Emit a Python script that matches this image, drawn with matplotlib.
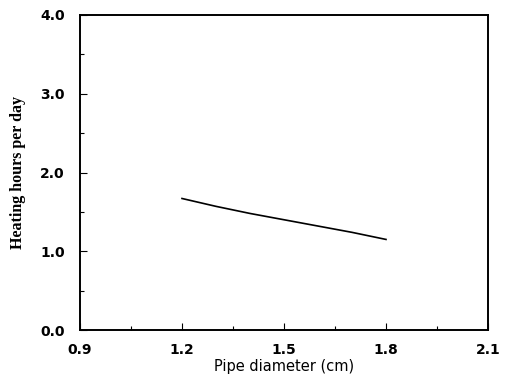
import numpy as np
import matplotlib.pyplot as plt
from matplotlib.ticker import MultipleLocator

# values
diameter = [1.2, 1.3, 1.4, 1.5, 1.6, 1.7, 1.8]
hours = [1.67, 1.57, 1.48, 1.40, 1.32, 1.24, 1.15]

fig = plt.figure(figsize=(5.09, 3.83), dpi=100)
ax = fig.add_axes([80 / 509, 1 - 330 / 383, 408 / 509, 315 / 383])

ax.plot(diameter, hours, color='black', linewidth=1.2)

ax.set_xlim(0.9, 2.1)
ax.set_ylim(0.0, 4.0)
ax.set_xticks([0.9, 1.2, 1.5, 1.8, 2.1])
ax.set_yticks([0.0, 1.0, 2.0, 3.0, 4.0])
ax.xaxis.set_minor_locator(MultipleLocator(0.15))
ax.yaxis.set_minor_locator(MultipleLocator(0.5))
ax.xaxis.set_major_formatter(plt.FormatStrFormatter('%.1f'))
ax.yaxis.set_major_formatter(plt.FormatStrFormatter('%.1f'))

ax.tick_params(which='both', direction='in', color='black', width=0.8)
ax.tick_params(which='major', length=5)
ax.tick_params(which='minor', length=3)
ax.tick_params(axis='y', pad=11, labelsize=10)
ax.tick_params(axis='x', pad=9, labelsize=10)
for lab in ax.get_xticklabels() + ax.get_yticklabels():
    lab.set_fontweight('semibold')

for s in ax.spines.values():
    s.set_linewidth(1.4)

ax.set_xlabel('Pipe diameter (cm)', fontsize=10.5, labelpad=2)
ax.set_ylabel('Heating hours per day', fontsize=11.5, fontweight='bold',
              family='Liberation Serif', labelpad=10)

fig.savefig('out.png', dpi=100)
